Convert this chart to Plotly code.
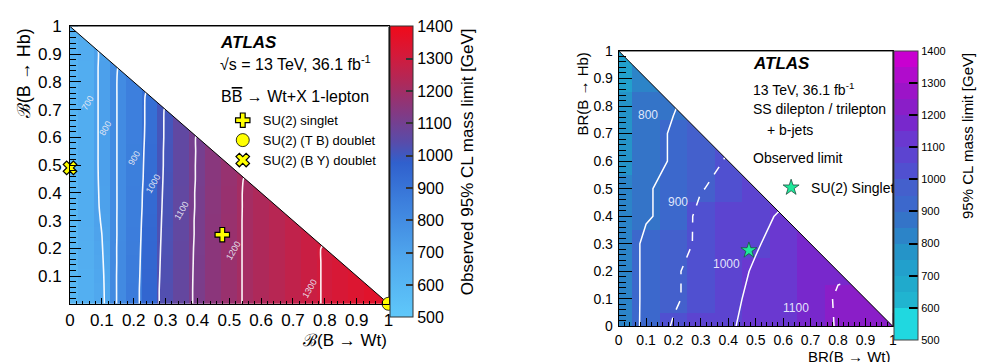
import plotly.graph_objects as go

W, H = 981, 362
FONT = "Liberation Sans, Arial, Helvetica, sans-serif"


def fx(px):
    return px / W


def fy(py):
    return 1 - py / H


# ---------------- left panel: B Bbar -> Wt+X, 1-lepton ----------------
lep_br = [0.00, 0.05, 0.10, 0.15, 0.20, 0.25, 0.30, 0.35, 0.40, 0.45, 0.50,
          0.55, 0.60, 0.65, 0.70, 0.75, 0.80, 0.85, 0.90, 0.95, 1.00]

# observed mass limit [GeV]; row j is BR(B->Hb) = lep_br[j], entries run over BR(B->Wt) up to 1 - BR(B->Hb)
lep_limit_rows = [
    [600, 640, 680, 810, 870, 955, 1030, 1065, 1115, 1150, 1180, 1205, 1225, 1245, 1265, 1285, 1305, 1320, 1335, 1350, 1365],
    [600, 640, 682, 810, 870, 955, 1030, 1065, 1115, 1150, 1180, 1205, 1225, 1245, 1265, 1285, 1305, 1320, 1335, 1350],
    [600, 642, 685, 810, 868, 952, 1028, 1065, 1114, 1150, 1180, 1205, 1225, 1245, 1265, 1285, 1305, 1320, 1335],
    [600, 645, 690, 808, 866, 950, 1026, 1064, 1113, 1150, 1180, 1205, 1225, 1245, 1265, 1285, 1305, 1320],
    [600, 648, 695, 808, 864, 948, 1024, 1063, 1112, 1150, 1180, 1205, 1225, 1245, 1265, 1285, 1305],
    [600, 650, 700, 806, 862, 945, 1022, 1062, 1110, 1150, 1180, 1205, 1225, 1245, 1265, 1285],
    [602, 652, 705, 806, 860, 942, 1020, 1062, 1110, 1150, 1180, 1205, 1225, 1245, 1265],
    [604, 652, 710, 805, 858, 938, 1018, 1061, 1108, 1148, 1178, 1205, 1225, 1245],
    [605, 652, 712, 805, 858, 935, 1016, 1061, 1108, 1148, 1178, 1205, 1225],
    [606, 652, 714, 805, 857, 930, 1014, 1060, 1106, 1146, 1176, 1203],
    [608, 652, 715, 805, 856, 928, 1012, 1060, 1106, 1146, 1176],
    [610, 652, 715, 805, 856, 925, 1012, 1060, 1105, 1145],
    [612, 652, 715, 805, 855, 922, 1010, 1060, 1105],
    [614, 652, 715, 805, 855, 920, 1010, 1060],
    [616, 652, 715, 805, 855, 920, 1008],
    [618, 652, 715, 805, 855, 918],
    [620, 652, 715, 805, 855],
    [622, 652, 715, 800],
    [625, 655, 712],
    [630, 660],
    [640],
]

lep_levels = [700, 800, 900, 1000, 1100, 1200, 1300]
lep_label_x = [0.055, 0.112, 0.202, 0.260, 0.349, 0.511, 0.752]
lep_label_y = [0.724, 0.633, 0.524, 0.433, 0.335, 0.192, 0.053]

lep_colorscale = [
    [0.00, "rgb(95,200,250)"],
    [0.20, "rgb(80,168,238)"],
    [0.40, "rgb(60,126,220)"],
    [0.53, "rgb(48,96,205)"],
    [0.60, "rgb(88,76,170)"],
    [0.70, "rgb(130,58,132)"],
    [0.80, "rgb(172,42,92)"],
    [0.90, "rgb(212,26,58)"],
    [1.00, "rgb(240,10,26)"],
]

# benchmark models: (BR(B->Wt), BR(B->Hb))
singlet_pt = (0.478, 0.249)
tb_doublet_pt = (1.0, 0.0)
by_doublet_pt = (0.0, 0.49)

# ---------------- right panel: SS dilepton / trilepton + b-jets ----------------
ss_br = [0.0, 0.1, 0.2, 0.3, 0.4, 0.5, 0.6, 0.7, 0.8, 0.9, 1.0]
ss_limit_rows = [
    [820, 925, 1010, 1050, 1093, 1118, 1145, 1170, 1205, 1225, 1240],
    [815, 925, 985, 1040, 1085, 1115, 1140, 1180, 1205, 1225],
    [815, 925, 985, 1040, 1075, 1108, 1135, 1175, 1195],
    [815, 925, 978, 1010, 1060, 1094, 1125, 1160],
    [800, 890, 930, 1030, 1050, 1080, 1110],
    [800, 890, 930, 995, 1030, 1060],
    [790, 865, 910, 960, 1010],
    [785, 865, 910, 950],
    [770, 850, 895],
    [745, 820],
    [720],
]
ss_solid_levels = [900, 1100]
ss_dashed_levels = [1000, 1200]
ss_label_text = ["800", "900", "1000", "1100"]
ss_label_x = [0.106, 0.217, 0.393, 0.647]
ss_label_y = [0.766, 0.452, 0.227, 0.066]
ss_singlet_pt = (0.475, 0.276)

ss_band_colors = ["#20d8e0", "#20d8e0", "#20b4d0", "#20aacc", "#22a0cc", "#2594c8",
                  "#2c84c8", "#3474c8", "#3c68cc", "#4460cc", "#5050d0", "#5c44d0",
                  "#6a38d0", "#7828cc", "#8a1ec8", "#9c14c8", "#b00ccc", "#c800d0"]

cbar_ticks = [500, 600, 700, 800, 900, 1000, 1100, 1200, 1300, 1400]
br_ticks = [0.0, 0.1, 0.2, 0.3, 0.4, 0.5, 0.6, 0.7, 0.8, 0.9, 1.0]
br_ticktext = ["0", "0.1", "0.2", "0.3", "0.4", "0.5", "0.6", "0.7", "0.8", "0.9", "1"]

# region with BR(B->Wt) + BR(B->Hb) > 1
unphys_x = [0, 1, 1, 0]
unphys_y = [1, 1, 0, 1]


def pad(rows, n):
    return [list(r) + [None] * (n - len(r)) for r in rows]


lep_z = pad(lep_limit_rows, len(lep_br))
ss_z = pad(ss_limit_rows, len(ss_br))

n_bands = len(ss_band_colors)
ss_colorscale = []
for k, c in enumerate(ss_band_colors):
    ss_colorscale.append([k / n_bands, c])
    ss_colorscale.append([(k + 1) / n_bands, c])

# panel geometry (pixels)
L_X0, L_X1, L_Y0, L_Y1 = 65.7, 387.5, 309.3, 18.3
R_X0, R_X1, R_Y0, R_Y1 = 620.0, 897.0, 333.0, 44.0

fig = go.Figure()

# ---- left traces
fig.add_trace(go.Heatmap(
    x=lep_br, y=lep_br, z=lep_z, zmin=500, zmax=1400, colorscale=lep_colorscale,
    xaxis="x", yaxis="y", hoverinfo="skip",
    colorbar=dict(
        x=fx(389), xanchor="left", xpad=0, y=fy(L_Y1), yanchor="top", ypad=0,
        len=L_Y0 - L_Y1, lenmode="pixels", thickness=23, thicknessmode="pixels",
        tickmode="array", tickvals=cbar_ticks, ticks="inside", ticklen=7,
        tickcolor="#333333", tickwidth=1.5, outlinewidth=1, outlinecolor="#333333",
        tickfont=dict(family=FONT, size=16, color="black"),
    ),
))
fig.add_trace(go.Contour(
    x=lep_br, y=lep_br, z=lep_z, xaxis="x", yaxis="y",
    contours=dict(coloring="none", start=lep_levels[0], end=lep_levels[-1],
                  size=lep_levels[1] - lep_levels[0], showlabels=False),
    line=dict(color="rgba(255,255,255,0.95)", width=1.6, smoothing=0.6),
    showscale=False, hoverinfo="skip", showlegend=False,
))
fig.add_trace(go.Scatter(
    x=unphys_x, y=unphys_y, xaxis="x", yaxis="y", mode="lines", fill="toself",
    fillcolor="white", line=dict(color="black", width=1), hoverinfo="skip", showlegend=False,
))
marker_line = dict(color="black", width=1.2)
fig.add_trace(go.Scatter(
    x=[singlet_pt[0]], y=[singlet_pt[1]], xaxis="x", yaxis="y", mode="markers",
    name="SU(2) singlet", legend="legend", cliponaxis=False,
    marker=dict(symbol="cross", size=12, color="#ffff00", line=marker_line),
))
fig.add_trace(go.Scatter(
    x=[tb_doublet_pt[0]], y=[tb_doublet_pt[1]], xaxis="x", yaxis="y", mode="markers",
    name="SU(2) (T B) doublet", legend="legend", cliponaxis=False,
    marker=dict(symbol="circle", size=13, color="#ffff00", line=dict(color="black", width=0.8)),
))
fig.add_trace(go.Scatter(
    x=[by_doublet_pt[0]], y=[by_doublet_pt[1]], xaxis="x", yaxis="y", mode="markers",
    name="SU(2) (B Y) doublet", legend="legend", cliponaxis=False,
    marker=dict(symbol="x", size=12, color="#ffff00", line=marker_line),
))

# ---- right traces
fig.add_trace(go.Heatmap(
    x=ss_br, y=ss_br, z=ss_z, zmin=500, zmax=1400, colorscale=ss_colorscale,
    xaxis="x2", yaxis="y2", hoverinfo="skip",
    colorbar=dict(
        x=fx(898), xanchor="left", xpad=0, y=fy(R_Y1), yanchor="top", ypad=0,
        len=R_Y0 - R_Y1, lenmode="pixels", thickness=24, thicknessmode="pixels",
        tickmode="array", tickvals=cbar_ticks, ticks="inside", ticklen=9,
        tickcolor="black", tickwidth=1.5, outlinewidth=1, outlinecolor="#444444",
        tickfont=dict(family=FONT, size=11, color="black"),
    ),
))
fig.add_trace(go.Contour(
    x=ss_br, y=ss_br, z=ss_z, xaxis="x2", yaxis="y2",
    contours=dict(coloring="none", start=ss_solid_levels[0], end=ss_solid_levels[-1],
                  size=ss_solid_levels[1] - ss_solid_levels[0], showlabels=False),
    line=dict(color="white", width=1.5, smoothing=0),
    showscale=False, hoverinfo="skip", showlegend=False,
))
fig.add_trace(go.Contour(
    x=ss_br, y=ss_br, z=ss_z, xaxis="x2", yaxis="y2",
    contours=dict(coloring="none", start=ss_dashed_levels[0], end=ss_dashed_levels[-1],
                  size=ss_dashed_levels[1] - ss_dashed_levels[0], showlabels=False),
    line=dict(color="white", width=1.5, dash="dash", smoothing=0),
    showscale=False, hoverinfo="skip", showlegend=False,
))
fig.add_trace(go.Scatter(
    x=unphys_x, y=unphys_y, xaxis="x2", yaxis="y2", mode="lines", fill="toself",
    fillcolor="white", line=dict(color="black", width=1), hoverinfo="skip", showlegend=False,
))
fig.add_trace(go.Scatter(
    x=[ss_singlet_pt[0]], y=[ss_singlet_pt[1]], xaxis="x2", yaxis="y2", mode="markers",
    name="SU(2) Singlet", legend="legend2", cliponaxis=False,
    marker=dict(symbol="star", size=12, color="#1ee89a", line=dict(color="#205040", width=0.8)),
))


def br_axis(domain, anchor, ticklen, minorlen, fontsize, labels, standoff):
    return dict(
        domain=domain, anchor=anchor, range=[0, 1], showgrid=False, zeroline=False,
        showline=True, linecolor="black", linewidth=1, mirror=True,
        ticks="inside", ticklen=ticklen, tickwidth=1, tickcolor="black",
        tickmode="array", tickvals=labels[0], ticktext=labels[1],
        minor=dict(ticks="inside", ticklen=minorlen, tickwidth=1, tickcolor="black",
                   dtick=0.02, tick0=0, showgrid=False),
        tickfont=dict(family=FONT, size=fontsize, color="black"),
        ticklabelstandoff=standoff,
    )


fig.update_layout(
    width=W, height=H, margin=dict(l=0, r=0, t=0, b=0),
    paper_bgcolor="white", plot_bgcolor="white",
    font=dict(family=FONT, color="black"),
    xaxis=br_axis([fx(L_X0), fx(L_X1)], "y", 6, 3, 17, (br_ticks, br_ticktext), 1),
    yaxis=br_axis([fy(L_Y0), fy(L_Y1)], "x", 11, 6, 17, (br_ticks[1:], br_ticktext[1:]), 4),
    xaxis2=br_axis([fx(R_X0), fx(R_X1)], "y2", 8, 4, 14, (br_ticks, br_ticktext), 1),
    yaxis2=br_axis([fy(R_Y0), fy(R_Y1)], "x2", 13, 7, 14, (br_ticks, br_ticktext), 2),
    legend=dict(x=fx(220), y=fy(101), xanchor="left", yanchor="top",
                bgcolor="rgba(0,0,0,0)", itemwidth=30, tracegroupgap=0,
                font=dict(family=FONT, size=13, color="black")),
    legend2=dict(x=fx(774), y=fy(171), xanchor="left", yanchor="top",
                 bgcolor="rgba(0,0,0,0)", itemwidth=30,
                 font=dict(family=FONT, size=14, color="black")),
)

ann = []


def text(x, y, s, size, xanchor="left", yanchor="middle", angle=0, color="black", ref="paper"):
    ann.append(dict(x=x, y=y, xref="paper" if ref == "paper" else ref[0],
                    yref="paper" if ref == "paper" else ref[1],
                    text=s, showarrow=False, xanchor=xanchor, yanchor=yanchor,
                    textangle=angle, font=dict(family=FONT, size=size, color=color)))


# left panel texts
text(fx(215), fy(35), "<b><i>ATLAS</i></b>", 17)
text(fx(215), fy(57), "√s = 13 TeV, 36.1 fb<sup>-1</sup>", 16)
text(fx(216), fy(92), "B<span style='text-decoration:overline'>B</span> → Wt+X 1-lepton", 16)
text(fx(20), fy(L_Y1), "ℬ(B → Hb)", 18, xanchor="center", yanchor="top", angle=-90)
text(fx(L_X1), fy(336), "ℬ(B → Wt)", 17, xanchor="right", yanchor="top")
text(fx(468), fy(L_Y1), "Observed 95% CL mass limit [GeV]", 17, xanchor="center", yanchor="top", angle=-90)
for lvl, lx, ly in zip(lep_levels, lep_label_x, lep_label_y):
    text(lx, ly, str(lvl), 9, xanchor="center", angle=-60, color="rgba(235,235,245,0.95)", ref=("x", "y"))

# right panel texts
text(fx(754), fy(57), "<b><i>ATLAS</i></b>", 17)
text(fx(754), fy(84), "13 TeV, 36.1 fb<sup>-1</sup>", 14)
text(fx(754), fy(105), "SS dilepton / trilepton", 14)
text(fx(768), fy(127), "+ b-jets", 14)
text(fx(754), fy(156), "Observed limit", 14)
text(fx(583), fy(R_Y1), "BR(B → Hb)", 15, xanchor="center", yanchor="top", angle=-90)
text(fx(R_X1), fy(354), "BR(B → Wt)", 15, xanchor="right", yanchor="top")
text(fx(973), fy(R_Y1), "95% CL mass limit [GeV]", 15, xanchor="center", yanchor="top", angle=-90)
for s, lx, ly in zip(ss_label_text, ss_label_x, ss_label_y):
    text(lx, ly, s, 12, xanchor="center", color="rgba(235,240,255,0.95)", ref=("x2", "y2"))

fig.update_layout(annotations=ann)
fig.write_html("out.html")
